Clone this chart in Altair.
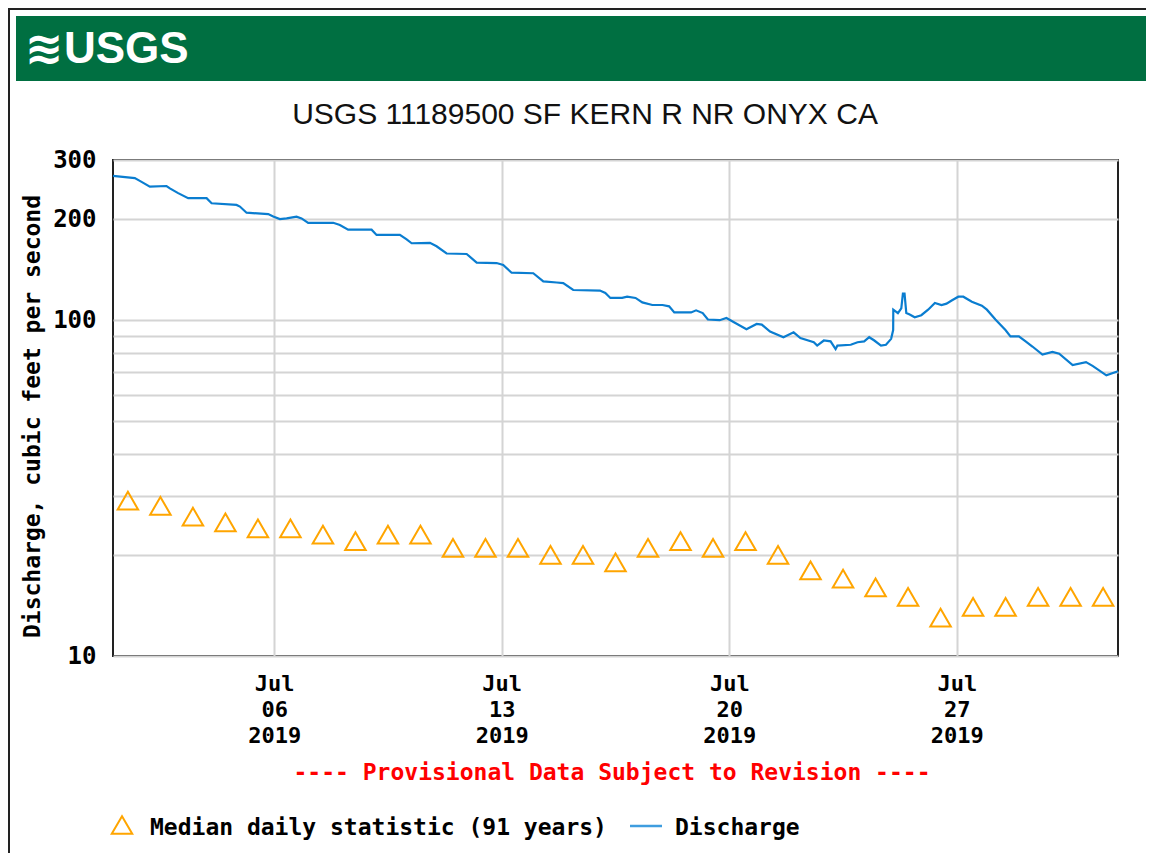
import altair as alt
import pandas as pd

# ---------------- data ----------------
discharge_times = [
    "2019-07-01T01:00", "2019-07-01T17:06", "2019-07-01T20:48", "2019-07-02T04:12",
    "2019-07-02T16:30", "2019-07-02T19:00", "2019-07-03T01:06", "2019-07-03T08:30",
    "2019-07-03T22:06", "2019-07-04T01:48", "2019-07-04T20:12", "2019-07-04T22:42",
    "2019-07-05T03:36", "2019-07-05T19:36", "2019-07-05T23:18", "2019-07-06T04:12",
    "2019-07-06T09:12", "2019-07-06T16:30", "2019-07-06T20:12", "2019-07-07T01:06",
    "2019-07-07T19:36", "2019-07-08T00:30", "2019-07-08T06:36", "2019-07-08T23:54",
    "2019-07-09T03:36", "2019-07-09T20:48", "2019-07-10T01:48", "2019-07-10T05:30",
    "2019-07-10T19:00", "2019-07-10T23:54", "2019-07-11T07:18", "2019-07-11T22:06",
    "2019-07-12T05:30", "2019-07-12T20:12", "2019-07-13T01:06", "2019-07-13T07:18",
    "2019-07-13T23:18", "2019-07-14T06:42", "2019-07-14T16:36", "2019-07-14T21:24",
    "2019-07-15T04:48", "2019-07-16T00:30", "2019-07-16T04:30", "2019-07-16T08:12",
    "2019-07-16T16:54", "2019-07-16T20:36", "2019-07-17T02:48", "2019-07-17T07:48",
    "2019-07-17T15:12", "2019-07-17T22:42", "2019-07-18T03:36", "2019-07-18T07:24",
    "2019-07-18T19:48", "2019-07-18T23:30", "2019-07-19T04:24", "2019-07-19T08:12",
    "2019-07-19T16:54", "2019-07-19T21:54", "2019-07-20T02:48", "2019-07-20T12:42",
    "2019-07-20T20:12", "2019-07-21T00:00", "2019-07-21T06:06", "2019-07-21T16:00",
    "2019-07-21T23:30", "2019-07-22T04:30", "2019-07-22T14:24", "2019-07-22T16:54",
    "2019-07-22T21:48", "2019-07-23T02:48", "2019-07-23T06:30", "2019-07-23T07:48",
    "2019-07-23T17:42", "2019-07-23T22:42", "2019-07-24T03:36", "2019-07-24T07:18",
    "2019-07-24T11:06", "2019-07-24T16:00", "2019-07-24T19:42", "2019-07-24T23:30",
    "2019-07-25T01:00", "2019-07-25T01:06", "2019-07-25T04:30", "2019-07-25T07:00",
    "2019-07-25T08:12", "2019-07-25T09:24", "2019-07-25T10:42", "2019-07-25T13:12",
    "2019-07-25T16:54", "2019-07-25T21:48", "2019-07-26T02:48", "2019-07-26T07:48",
    "2019-07-26T12:42", "2019-07-26T16:24", "2019-07-26T20:12", "2019-07-27T01:06",
    "2019-07-27T04:48", "2019-07-27T11:06", "2019-07-27T18:30", "2019-07-27T22:12",
    "2019-07-28T04:30", "2019-07-28T11:54", "2019-07-28T15:36", "2019-07-28T21:48",
    "2019-07-29T02:48", "2019-07-29T07:48", "2019-07-29T15:12", "2019-07-29T22:36",
    "2019-07-30T03:36", "2019-07-30T13:30", "2019-07-30T23:24", "2019-07-31T04:30",
    "2019-07-31T14:24", "2019-07-31T23:00",
]
discharge_values = [
    269, 265, 260, 250, 251, 247, 239, 231, 231, 223, 220.5, 218,
    209, 207, 203.5, 200, 201, 203.5, 201, 195, 195, 192, 186, 186,
    179.5, 179.5, 174, 169.5, 170, 166, 158, 157.5, 148.5, 148, 146, 138.5,
    138, 130.5, 129.5, 129, 123, 122.5, 120.5, 116.5, 116.5, 117.5, 116.5, 113,
    111, 111, 110, 105.5, 105.5, 107, 105, 100.5, 100, 101.5, 99, 94,
    97.5, 97, 92.5, 89, 92, 88.5, 86, 84, 87, 86.5, 82, 84,
    84.5, 86, 86.5, 89, 87, 84, 84.5, 88, 93.5, 107.5, 105, 108.5,
    120, 120, 105, 104, 102, 103.5, 107.5, 112.5, 111, 112, 114.5, 117.5,
    117.5, 113.5, 110.5, 107.5, 100.5, 93.5, 89.5, 89.5, 86.5, 83.5, 79, 80.5,
    79.5, 73.5, 75, 73, 68.5, 70.5,
]

median_days = list(range(1, 32))
median_values = [29, 28, 26, 25, 24, 24, 23, 22, 23, 23, 21, 21, 21, 20, 20, 19,
                 21, 22, 21, 22, 20, 18, 17, 16, 15, 13, 14, 14, 15, 15, 15]

y_grid_values = [10, 20, 30, 40, 50, 60, 70, 80, 90, 100, 200, 300]
y_label_values = [10, 100, 200, 300]
x_tick_dates = [6, 13, 20, 27]

title_text = "USGS 11189500 SF KERN R NR ONYX CA"
y_title = "Discharge, cubic feet per second"
provisional_text = "---- Provisional Data Subject to Revision ----"
legend_median = "Median daily statistic (91 years)"
legend_discharge = "Discharge"

# ---------------- styles ----------------
GREEN = "#006f41"
BLUE = "#0a7dd0"
ORANGE = "#ffa500"
MONO = "DejaVu Sans Mono"
SANS = "Liberation Sans, Arial, sans-serif"

W, H = 1005, 496

line_df = pd.DataFrame({"time": discharge_times, "q": discharge_values})
med_df = pd.DataFrame({
    "time": [f"2019-07-{d:02d}T12:00" for d in median_days],
    "q": median_values,
})

x_scale = alt.Scale(domain=[alt.DateTime(year=2019, month=7, date=1, hours=1),
                            alt.DateTime(year=2019, month=7, date=31, hours=23)])
y_scale = alt.Scale(type="log", domain=[10, 300])

label_test = " || ".join(f"datum.value == {v}" for v in y_label_values)

x_axis = alt.Axis(
    values=[alt.DateTime(year=2019, month=7, date=d) for d in x_tick_dates],
    labelExpr="[timeFormat(datum.value, '%b'), timeFormat(datum.value, '%d'), timeFormat(datum.value, '%Y')]",
    title=None, ticks=False, tickSize=0, domain=False,
    grid=True, gridColor="#d4d4d4", gridWidth=2,
    labelFont=MONO, labelFontWeight="bold", labelFontSize=22, labelColor="#000",
    labelLineHeight=26, labelPadding=17, labelAlign="center", labelBaseline="top",
)
y_axis = alt.Axis(
    values=y_grid_values,
    labelExpr=f"({label_test}) ? format(datum.value, 'd') : ''",
    title=y_title, titleFont=MONO, titleFontWeight="bold", titleFontSize=23,
    titleColor="#000", titleAngle=270, titleX=-81, titleY=256,
    titleAlign="center", titleBaseline="middle",
    ticks=False, tickSize=0, domain=False,
    grid=True, gridColor="#d4d4d4", gridWidth=2,
    labelFont=MONO, labelFontWeight="bold", labelFontSize=24, labelColor="#000",
    labelPadding=17, labelBaseline="middle",
)

base_x = alt.X("time:T", scale=x_scale, axis=x_axis)
base_y = alt.Y("q:Q", scale=y_scale, axis=y_axis)

line = alt.Chart(line_df).mark_line(color=BLUE, strokeWidth=2.2).encode(x=base_x, y=base_y)
tri = alt.Chart(med_df).mark_point(shape="triangle-up", size=420, filled=False,
                                   color=ORANGE, strokeWidth=2, opacity=1).encode(
    x=alt.X("time:T", scale=x_scale), y=alt.Y("q:Q", scale=y_scale))

one = alt.Data(values=[{"k": 1}])


def txt(text, x, y, **kw):
    return alt.Chart(one).mark_text(**kw).encode(
        x=alt.value(x), y=alt.value(y), text=alt.value(text))


banner = alt.Chart(one).mark_rect(color=GREEN).encode(
    x=alt.value(-97), x2=alt.value(1033), y=alt.value(-144), y2=alt.value(-79))
frame_left = alt.Chart(one).mark_rule(color="#222", strokeWidth=2).encode(
    x=alt.value(-104), y=alt.value(-151), y2=alt.value(693))
frame_top = alt.Chart(one).mark_rule(color="#222", strokeWidth=2).encode(
    x=alt.value(-105), x2=alt.value(1033), y=alt.value(-151))

logo_wave = txt("\u224b", -69, -110, font="DejaVu Sans", fontSize=46, fontWeight="bold",
                color="white", align="center", baseline="middle")
logo_text = txt("USGS", -49, -110, font=SANS, fontSize=44, fontWeight="bold",
                color="white", align="left", baseline="middle")
title = txt(title_text, 472, -45, font=SANS, fontSize=30, color="#111",
            align="center", baseline="middle")
prov = txt(provisional_text, 499, 117 + H, font=MONO, fontSize=23, fontWeight="bold",
           color="#ff0000", align="center", baseline="middle")

leg_tri = alt.Chart(one).mark_point(shape="triangle-up", size=420, filled=False,
                                    color=ORANGE, strokeWidth=2, opacity=1).encode(
    x=alt.value(9), y=alt.value(169 + H))
leg_t1 = txt(legend_median, 37, 172 + H, font=MONO, fontSize=23, fontWeight="bold",
             color="#000", align="left", baseline="middle")
leg_line = alt.Chart(one).mark_rule(color="#3f9ddf", strokeWidth=2.5).encode(
    x=alt.value(517), x2=alt.value(549), y=alt.value(170 + H))
leg_t2 = txt(legend_discharge, 562, 172 + H, font=MONO, fontSize=23, fontWeight="bold",
             color="#000", align="left", baseline="middle")

chart = alt.layer(
    banner, frame_left, frame_top, logo_wave, logo_text, title,
    line, tri, prov, leg_tri, leg_t1, leg_line, leg_t2,
).properties(
    width=W, height=H,
    autosize=alt.AutoSizeParams(type="none"),
    padding={"left": 105, "top": 152, "right": 28, "bottom": 197},
    background="white",
).configure_view(stroke="#222", strokeWidth=2)

chart.save("out.html", embed_options={"renderer": "svg", "actions": False})
